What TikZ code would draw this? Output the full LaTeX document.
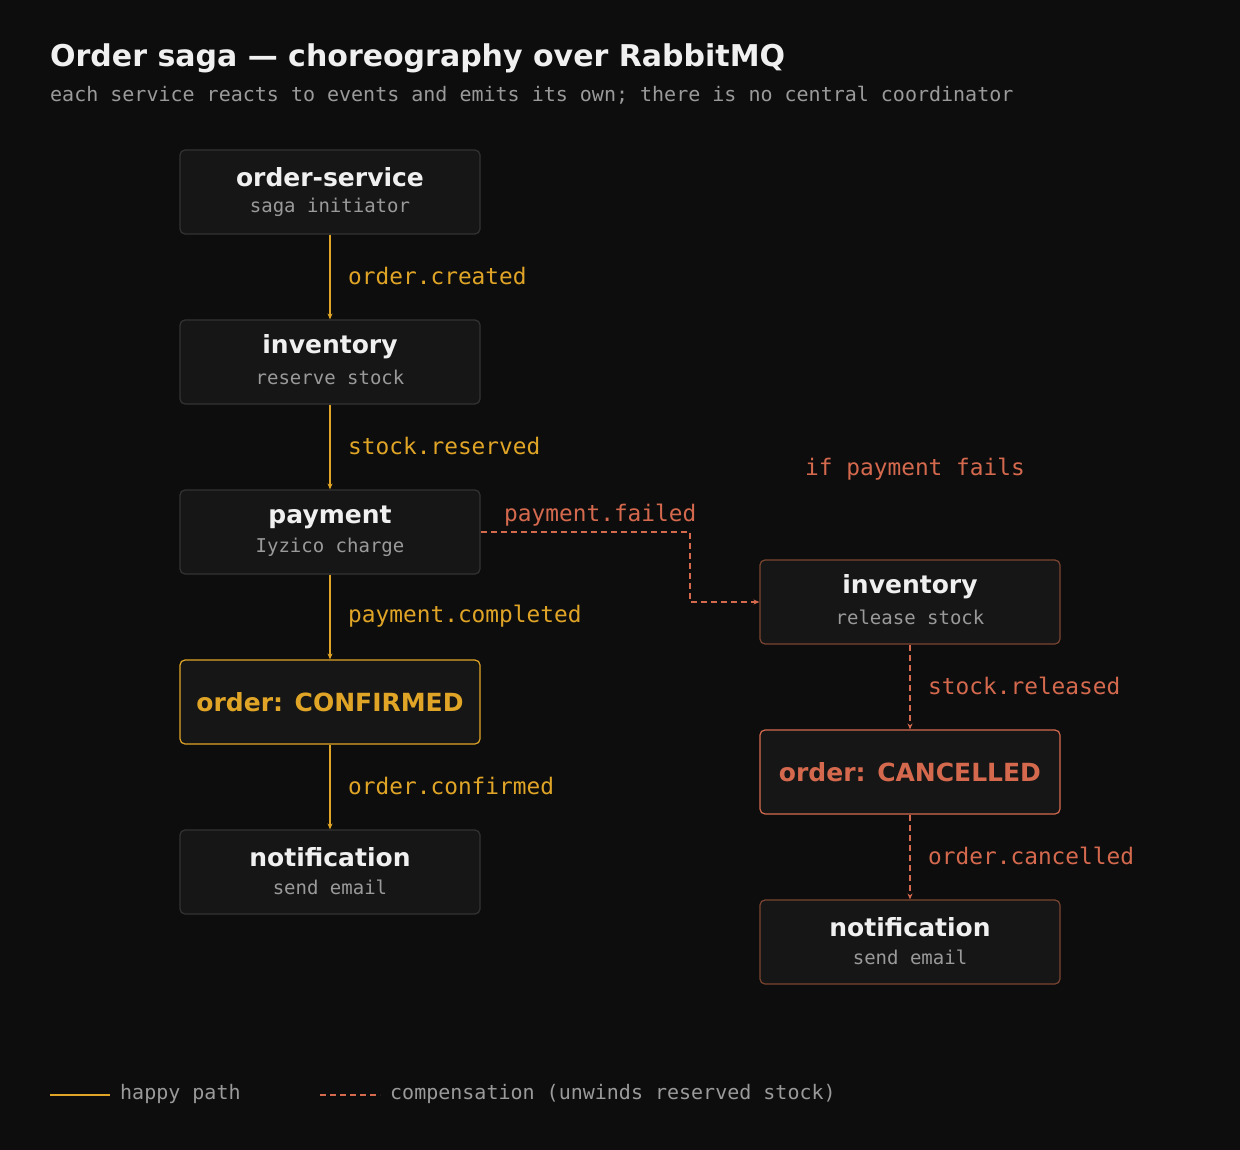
\documentclass[tikz,border=0pt]{standalone}
\usepackage{fontspec}
\setmainfont{DejaVu Sans}
\newfontfamily\monof{DejaVu Sans Mono}
\usetikzlibrary{arrows.meta}
\definecolor{bg}{HTML}{0D0D0D}
\definecolor{boxfill}{HTML}{161616}
\definecolor{boxline}{HTML}{333333}
\definecolor{ok}{HTML}{E0A526}
\definecolor{bad}{HTML}{D4694E}
\definecolor{badline}{HTML}{7A4530}
\definecolor{sub}{HTML}{9A9A9A}
\definecolor{txt}{HTML}{F0F0F0}
\tikzset{
 box/.style={draw=boxline,fill=boxfill,rounded corners=5pt,minimum width=300pt,minimum height=84pt,line width=1.2pt,align=center,inner sep=0pt},
 rbox/.style={box,draw=badline},
 ntitle/.style={text=txt,font=\fontsize{25}{28}\selectfont\bfseries,inner sep=0pt},
 nsub/.style={text=sub,font=\monof\fontsize{19}{22}\selectfont,inner sep=0pt},
 happy/.style={draw=ok,line width=1.6pt,-{Stealth[length=6pt,width=5pt]}},
 comp/.style={draw=bad,line width=1.6pt,dash pattern=on 6pt off 4pt,-{Stealth[length=6pt,width=5pt]}},
 elab/.style={font=\monof\fontsize{22.8}{24}\selectfont,anchor=west,inner sep=0pt},
}
\begin{document}
\begin{tikzpicture}[x=1pt,y=-1pt]
\fill[bg] (0,0) rectangle (1240,1150);
\useasboundingbox (0,0) rectangle (1240,1150);
\node[anchor=west,inner sep=0pt,text=txt,font=\fontsize{30}{32}\selectfont\bfseries] (title) at (50,58) {Order saga — choreography over RabbitMQ};
\node[anchor=west,inner sep=0pt,text=sub,font=\monof\fontsize{20}{22}\selectfont] (subt) at (50,95) {each service reacts to events and emits its own; there is no central coordinator};
\node[box] (os) at (330,192) {};
\node[box] (inv) at (330,362) {};
\node[box] (pay) at (330,532) {};
\node[box,draw=ok,text=ok,font=\fontsize{25}{28}\selectfont\bfseries] (conf) at (330,702) {order: CONFIRMED};
\node[box] (not1) at (330,872) {};
\node[rbox] (rel) at (910,602) {};
\node[rbox,draw=bad,text=bad,font=\fontsize{25}{28}\selectfont\bfseries] (canc) at (910,772) {order: CANCELLED};
\node[rbox] (not2) at (910,942) {};
\node[ntitle] (os1) at (330,177) {order-service};
\node[nsub] (os2) at (330,207) {saga initiator};
\node[ntitle] (inv1) at (330,347) {inventory};
\node[nsub] (inv2) at (330,377) {reserve stock};
\node[ntitle] (pay1) at (330,517) {payment};
\node[nsub] (pay2) at (330,547) {Iyzico charge};
\node[ntitle] (n11) at (330,857) {notification};
\node[nsub] (n12) at (330,887) {send email};
\node[ntitle] (rel1) at (910,587) {inventory};
\node[nsub] (rel2) at (910,617) {release stock};
\node[ntitle] (n21) at (910,927) {notification};
\node[nsub] (n22) at (910,957) {send email};
\draw[happy] (os) -- (inv);
\draw[happy] (inv) -- (pay);
\draw[happy] (pay) -- (conf);
\draw[happy] (conf) -- (not1);
\node[elab,text=ok] (l1) at (348,276) {order.created};
\node[elab,text=ok] (l2) at (348,446) {stock.reserved};
\node[elab,text=ok] (l3) at (348,616) {payment.completed};
\node[elab,text=ok] (l4) at (348,786) {order.confirmed};
\coordinate (c1) at (690,532);
\coordinate (c2) at (690,602);
\draw[comp] (pay.east) -- (c1) -- (c2) -- (rel.west);
\draw[comp] (rel) -- (canc);
\draw[comp] (canc) -- (not2);
\node[elab,text=bad] (l5) at (504,515) {payment.failed};
\node[elab,text=bad] (l6) at (805,469) {if payment fails};
\node[elab,text=bad] (l7) at (928,686) {stock.released};
\node[elab,text=bad] (l8) at (928,856) {order.cancelled};
\coordinate (g1) at (50,1095); \coordinate (g2) at (110,1095);
\draw[ok,line width=1.6pt] (g1) -- (g2);
\node[anchor=west,inner sep=0pt,text=sub,font=\monof\fontsize{20}{22}\selectfont] (lg1) at (120,1094) {happy path};
\coordinate (g3) at (320,1095); \coordinate (g4) at (380,1095);
\draw[bad,line width=1.6pt,dash pattern=on 6pt off 4pt] (g3) -- (g4);
\node[anchor=west,inner sep=0pt,text=sub,font=\monof\fontsize{20}{22}\selectfont] (lg2) at (390,1094) {compensation (unwinds reserved stock)};
\end{tikzpicture}
\end{document}
